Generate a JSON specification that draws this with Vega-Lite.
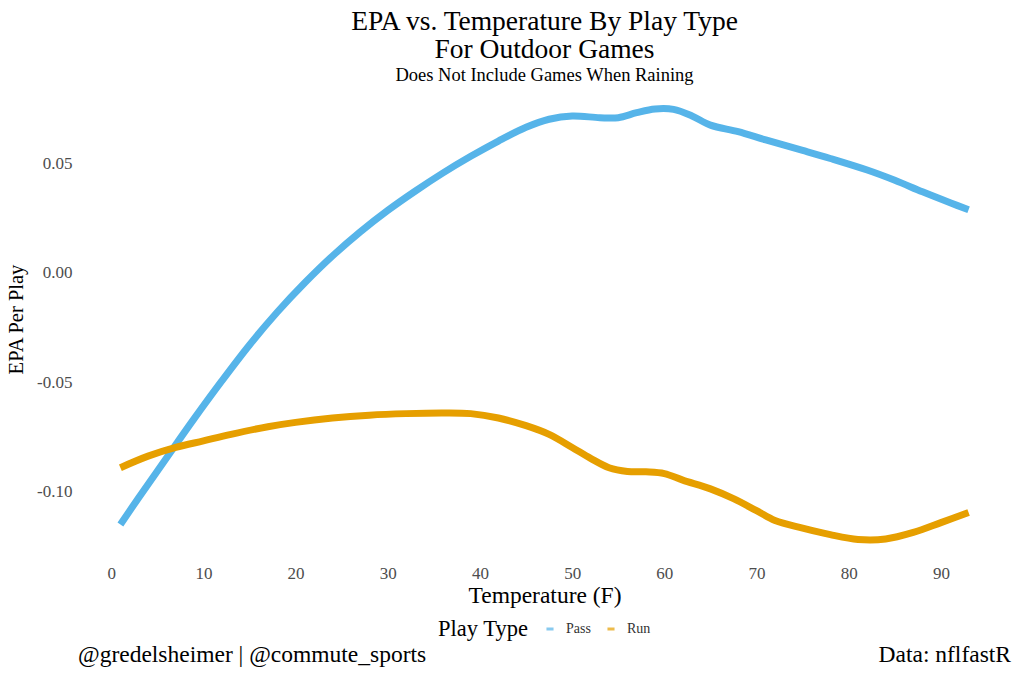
{
  "$schema": "https://vega.github.io/schema/vega-lite/v6.json",
  "width": 933,
  "height": 478,
  "autosize": {"type": "none"},
  "padding": {"left": 78, "top": 85, "right": 13, "bottom": 116},
  "background": "white",
  "title": {
    "text": ["EPA vs. Temperature By Play Type", "For Outdoor Games"],
    "subtitle": "Does Not Include Games When Raining",
    "anchor": "middle",
    "font": "Liberation Serif",
    "fontSize": 27.5,
    "fontWeight": "normal",
    "color": "black",
    "lineHeight": 28,
    "subtitleFont": "Liberation Serif",
    "subtitleFontSize": 18.5,
    "subtitleColor": "black",
    "subtitlePadding": 2,
    "offset": 1
  },
  "config": {
    "view": {"stroke": null},
    "font": "Liberation Serif"
  },
  "layer": [
    {
      "data": {
        "values": [
          {"temp": 1, "epa": -0.1153, "play_type": "Pass"},
          {"temp": 3, "epa": -0.1030, "play_type": "Pass"},
          {"temp": 6, "epa": -0.0848, "play_type": "Pass"},
          {"temp": 9, "epa": -0.0668, "play_type": "Pass"},
          {"temp": 12, "epa": -0.0495, "play_type": "Pass"},
          {"temp": 15, "epa": -0.0330, "play_type": "Pass"},
          {"temp": 18, "epa": -0.0180, "play_type": "Pass"},
          {"temp": 21, "epa": -0.0045, "play_type": "Pass"},
          {"temp": 24, "epa": 0.0078, "play_type": "Pass"},
          {"temp": 27, "epa": 0.0188, "play_type": "Pass"},
          {"temp": 30, "epa": 0.0287, "play_type": "Pass"},
          {"temp": 33, "epa": 0.0376, "play_type": "Pass"},
          {"temp": 36, "epa": 0.0459, "play_type": "Pass"},
          {"temp": 39, "epa": 0.0535, "play_type": "Pass"},
          {"temp": 42, "epa": 0.0605, "play_type": "Pass"},
          {"temp": 45, "epa": 0.0668, "play_type": "Pass"},
          {"temp": 47.5, "epa": 0.0705, "play_type": "Pass"},
          {"temp": 50, "epa": 0.0720, "play_type": "Pass"},
          {"temp": 53, "epa": 0.0712, "play_type": "Pass"},
          {"temp": 55, "epa": 0.0712, "play_type": "Pass"},
          {"temp": 57, "epa": 0.0735, "play_type": "Pass"},
          {"temp": 59, "epa": 0.0752, "play_type": "Pass"},
          {"temp": 61, "epa": 0.0750, "play_type": "Pass"},
          {"temp": 63, "epa": 0.0720, "play_type": "Pass"},
          {"temp": 65, "epa": 0.0678, "play_type": "Pass"},
          {"temp": 68, "epa": 0.0648, "play_type": "Pass"},
          {"temp": 71, "epa": 0.0610, "play_type": "Pass"},
          {"temp": 75, "epa": 0.0562, "play_type": "Pass"},
          {"temp": 78, "epa": 0.0525, "play_type": "Pass"},
          {"temp": 82, "epa": 0.0472, "play_type": "Pass"},
          {"temp": 85, "epa": 0.0425, "play_type": "Pass"},
          {"temp": 88, "epa": 0.0372, "play_type": "Pass"},
          {"temp": 91, "epa": 0.0322, "play_type": "Pass"},
          {"temp": 93, "epa": 0.0290, "play_type": "Pass"},
          {"temp": 1, "epa": -0.0893, "play_type": "Run"},
          {"temp": 4, "epa": -0.0840, "play_type": "Run"},
          {"temp": 7, "epa": -0.0800, "play_type": "Run"},
          {"temp": 10, "epa": -0.0770, "play_type": "Run"},
          {"temp": 13, "epa": -0.0740, "play_type": "Run"},
          {"temp": 17, "epa": -0.0705, "play_type": "Run"},
          {"temp": 20, "epa": -0.0685, "play_type": "Run"},
          {"temp": 24, "epa": -0.0665, "play_type": "Run"},
          {"temp": 28, "epa": -0.0652, "play_type": "Run"},
          {"temp": 32, "epa": -0.0645, "play_type": "Run"},
          {"temp": 36, "epa": -0.0642, "play_type": "Run"},
          {"temp": 39, "epa": -0.0645, "play_type": "Run"},
          {"temp": 42, "epa": -0.0665, "play_type": "Run"},
          {"temp": 45, "epa": -0.0700, "play_type": "Run"},
          {"temp": 47.5, "epa": -0.0740, "play_type": "Run"},
          {"temp": 50, "epa": -0.0800, "play_type": "Run"},
          {"temp": 52, "epa": -0.0850, "play_type": "Run"},
          {"temp": 54, "epa": -0.0893, "play_type": "Run"},
          {"temp": 56, "epa": -0.0910, "play_type": "Run"},
          {"temp": 58, "epa": -0.0912, "play_type": "Run"},
          {"temp": 60, "epa": -0.0920, "play_type": "Run"},
          {"temp": 62, "epa": -0.0950, "play_type": "Run"},
          {"temp": 65, "epa": -0.0990, "play_type": "Run"},
          {"temp": 67.5, "epa": -0.1035, "play_type": "Run"},
          {"temp": 70, "epa": -0.1090, "play_type": "Run"},
          {"temp": 72, "epa": -0.1135, "play_type": "Run"},
          {"temp": 75, "epa": -0.1170, "play_type": "Run"},
          {"temp": 78, "epa": -0.1200, "play_type": "Run"},
          {"temp": 81, "epa": -0.1222, "play_type": "Run"},
          {"temp": 84, "epa": -0.1220, "play_type": "Run"},
          {"temp": 87, "epa": -0.1190, "play_type": "Run"},
          {"temp": 90, "epa": -0.1145, "play_type": "Run"},
          {"temp": 93, "epa": -0.1098, "play_type": "Run"}
        ]
      },
      "mark": {"type": "line", "strokeWidth": 7, "interpolate": "catmull-rom"},
      "encoding": {
        "x": {
          "field": "temp",
          "type": "quantitative",
          "scale": {"domain": [-3.6, 97.6], "nice": false, "zero": false},
          "axis": {
            "title": "Temperature (F)",
            "values": [0, 10, 20, 30, 40, 50, 60, 70, 80, 90],
            "grid": false,
            "domain": false,
            "ticks": false,
            "labelFont": "Liberation Serif",
            "labelFontSize": 17,
            "labelColor": "#4d4d4d",
            "labelPadding": 2,
            "titleFont": "Liberation Serif",
            "titleFontSize": 23.5,
            "titleFontWeight": "normal",
            "titleColor": "black",
            "titlePadding": 2
          }
        },
        "y": {
          "field": "epa",
          "type": "quantitative",
          "scale": {"domain": [-0.133, 0.0862], "nice": false, "zero": false},
          "axis": {
            "title": "EPA Per Play",
            "values": [-0.1, -0.05, 0, 0.05],
            "labelExpr": "datum.value < 0 ? '-' + format(-datum.value, '.2f') : format(datum.value, '.2f')",
            "grid": false,
            "domain": false,
            "ticks": false,
            "labelFont": "Liberation Serif",
            "labelFontSize": 17,
            "labelColor": "#4d4d4d",
            "labelPadding": 6,
            "titleFont": "Liberation Serif",
            "titleFontSize": 20.5,
            "titleFontWeight": "normal",
            "titleColor": "black",
            "titleX": -52,
            "titleY": 234
          }
        },
        "color": {
          "field": "play_type",
          "type": "nominal",
          "scale": {"domain": ["Pass", "Run"], "range": ["#56B4E9", "#E69F00"]},
          "legend": {
            "title": "Play Type",
            "orient": "none",
            "direction": "horizontal",
            "legendX": 360,
            "legendY": 537,
            "titleOrient": "left",
            "titleFont": "Liberation Serif",
            "titleFontSize": 22.5,
            "titleFontWeight": "normal",
            "titleColor": "black",
            "titlePadding": 14,
            "labelFont": "Liberation Serif",
            "labelFontSize": 14,
            "labelColor": "#333333",
            "labelOffset": 9,
            "symbolType": "stroke",
            "symbolStrokeWidth": 3,
            "symbolSize": 50,
            "symbolOpacity": 0.7,
            "columnPadding": 10
          }
        }
      }
    },
    {
      "data": {"values": [{"caption": "@gredelsheimer | @commute_sports"}]},
      "mark": {"type": "text", "align": "left", "baseline": "alphabetic", "font": "Liberation Serif", "fontSize": 23.5, "color": "black"},
      "encoding": {
        "text": {"field": "caption", "type": "nominal"},
        "x": {"datum": -3.6, "type": "quantitative"},
        "y": {"datum": -0.1784, "type": "quantitative"}
      }
    },
    {
      "data": {"values": [{"caption": "Data: nflfastR"}]},
      "mark": {"type": "text", "align": "right", "baseline": "alphabetic", "font": "Liberation Serif", "fontSize": 23.5, "color": "black"},
      "encoding": {
        "text": {"field": "caption", "type": "nominal"},
        "x": {"datum": 97.6, "type": "quantitative"},
        "y": {"datum": -0.1784, "type": "quantitative"}
      }
    }
  ]
}
